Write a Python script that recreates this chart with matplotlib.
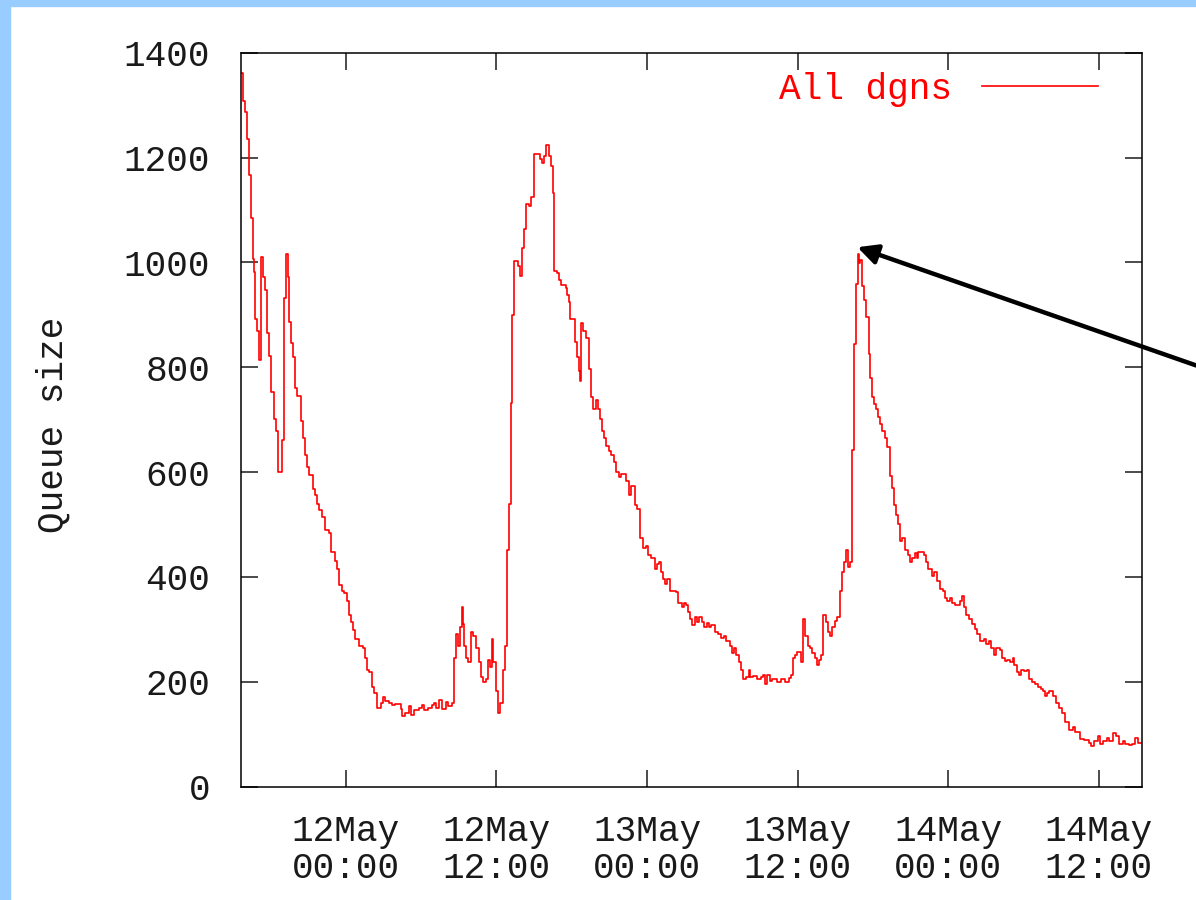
import matplotlib
matplotlib.use("Agg")
import matplotlib.pyplot as plt
import matplotlib.dates as mdates
from matplotlib.patches import Rectangle
import pandas as pd

plt.rcParams['font.family'] = ['Liberation Mono', 'DejaVu Sans Mono']

###### data : queue size, hours counted from 12May 00:00 ######

hours = [
    -8.39, -8.18, -8.02, -7.91, -7.75, -7.59, -7.43, -7.33, -7.22, -7.09,
    -6.96, -6.80, -6.64, -6.42, -6.27, -6.11, -6.00, -5.73, -5.58, -5.42,
    -5.10, -4.94, -4.78, -4.62, -4.51, -4.35, -4.19, -4.03, -3.87, -3.61,
    -3.45, -3.29, -3.13, -2.92, -2.65, -2.44, -2.28, -2.12, -1.91, -1.64,
    -1.38, -1.22, -0.85, -0.69, -0.53, -0.32, -0.16, 0.06, 0.22, 0.37,
    0.53, 0.69, 1.01, 1.33, 1.49, 1.70, 1.86, 2.07, 2.23, 2.45,
    2.76, 2.92, 3.14, 3.43, 3.69, 3.91, 4.36, 4.49, 4.70, 5.02,
    5.18, 5.39, 5.82, 6.03, 6.24, 6.56, 6.88, 7.04, 7.20, 7.41,
    7.63, 7.94, 8.16, 8.42, 8.64, 8.79, 8.95, 9.06, 9.27, 9.33,
    9.43, 9.54, 9.70, 9.96, 10.12, 10.39, 10.60, 10.76, 10.92, 11.13,
    11.29, 11.45, 11.61, 11.72, 11.93, 12.09, 12.25, 12.51, 12.67, 12.83,
    12.99, 13.12, 13.26, 13.42, 13.68, 13.84, 14.00, 14.16, 14.32, 14.58,
    14.74, 14.96, 15.01, 15.46, 15.65, 15.78, 15.94, 16.15, 16.31, 16.47,
    16.58, 16.79, 16.95, 17.16, 17.53, 17.64, 17.80, 17.90, 18.22, 18.38,
    18.54, 18.65, 18.75, 18.91, 19.13, 19.34, 19.50, 19.66, 19.92, 20.08,
    20.29, 20.45, 20.61, 20.77, 20.99, 21.15, 21.36, 21.52, 21.73, 21.94,
    22.31, 22.58, 22.74, 23.06, 23.22, 23.48, 23.69, 23.91, 24.07, 24.28,
    24.60, 24.76, 24.92, 25.13, 25.29, 25.45, 25.61, 25.82, 26.30, 26.46,
    26.75, 26.91, 27.07, 27.28, 27.44, 27.60, 27.81, 27.97, 28.18, 28.40,
    28.56, 28.77, 28.93, 29.14, 29.46, 29.67, 29.88, 30.15, 30.31, 30.63,
    30.79, 30.95, 31.11, 31.32, 31.48, 31.64, 31.90, 32.11, 32.22, 32.43,
    32.80, 33.07, 33.28, 33.44, 33.60, 33.81, 33.97, 34.40, 34.66, 35.04,
    35.30, 35.46, 35.62, 35.83, 35.99, 36.26, 36.47, 36.63, 36.84, 37.00,
    37.16, 37.37, 37.53, 37.74, 37.90, 38.00, 38.25, 38.46, 38.62, 38.78,
    38.99, 39.15, 39.42, 39.58, 39.74, 39.90, 40.00, 40.22, 40.32, 40.48,
    40.64, 40.80, 40.91, 41.01, 41.12, 41.28, 41.44, 41.70, 41.81, 41.91,
    42.07, 42.23, 42.39, 42.61, 42.76, 42.98, 43.14, 43.35, 43.51, 43.67,
    43.88, 44.04, 44.20, 44.36, 44.57, 44.78, 45.00, 45.16, 45.37, 45.53,
    45.63, 46.06, 46.27, 46.38, 46.70, 46.86, 47.12, 47.39, 47.60, 47.76,
    47.92, 48.18, 48.34, 48.56, 48.93, 49.09, 49.25, 49.46, 49.64, 49.91,
    50.12, 50.33, 50.55, 50.87, 51.03, 51.24, 51.40, 51.66, 51.82, 52.14,
    52.30, 52.51, 52.73, 52.94, 53.15, 53.26, 53.47, 53.63, 53.84, 54.05,
    54.27, 54.48, 54.69, 54.96, 55.17, 55.38, 55.59, 55.75, 55.91, 56.07,
    56.34, 56.60, 56.87, 57.08, 57.35, 57.61, 57.93, 58.14, 58.52, 58.83,
    59.21, 59.42, 59.63, 59.95, 60.11, 60.37, 60.64, 60.85, 61.17, 61.38,
    61.65, 61.92, 62.13, 62.39, 62.66, 62.92, 63.14, 63.46,
]

queue = [
    1362, 1307, 1287, 1235, 1166, 1084, 1007, 981, 893, 870,
    813, 1010, 973, 948, 866, 822, 752, 702, 679, 601,
    661, 932, 1016, 973, 886, 847, 820, 761, 745, 697,
    665, 633, 610, 594, 567, 556, 539, 528, 515, 490,
    483, 448, 430, 415, 385, 374, 369, 354, 328, 314,
    299, 282, 269, 264, 246, 223, 219, 191, 178, 150,
    159, 171, 164, 159, 155, 157, 148, 135, 141, 153,
    137, 146, 150, 155, 146, 150, 155, 159, 150, 166,
    148, 162, 153, 159, 246, 292, 269, 305, 342, 310,
    269, 246, 237, 296, 287, 264, 237, 210, 200, 205,
    241, 228, 282, 237, 182, 141, 159, 223, 269, 451,
    539, 731, 900, 1002, 993, 975, 1028, 1063, 1112, 1107,
    1125, 1130, 1207, 1198, 1189, 1203, 1223, 1203, 1184, 1132,
    984, 979, 966, 957, 952, 938, 925, 893, 849, 820,
    793, 774, 884, 870, 856, 797, 743, 720, 738, 720,
    702, 679, 665, 649, 640, 633, 620, 601, 590, 597,
    583, 556, 574, 538, 530, 474, 456, 460, 442, 436,
    415, 424, 428, 410, 396, 387, 396, 374, 372, 351,
    342, 351, 346, 333, 319, 308, 323, 314, 323, 314,
    305, 312, 305, 308, 296, 292, 284, 287, 278, 269,
    255, 264, 251, 237, 223, 205, 210, 223, 210, 212,
    205, 210, 214, 196, 214, 202, 205, 200, 205, 200,
    208, 214, 246, 251, 257, 237, 319, 287, 269, 264,
    255, 246, 232, 241, 251, 328, 314, 296, 287, 305,
    317, 323, 374, 410, 428, 451, 419, 428, 642, 845,
    959, 1016, 998, 1004, 955, 929, 895, 825, 779, 743,
    729, 720, 706, 692, 679, 665, 647, 592, 569, 538,
    519, 501, 469, 474, 451, 442, 428, 437, 446, 437,
    448, 442, 428, 415, 401, 410, 392, 378, 374, 360,
    355, 360, 351, 346, 355, 364, 342, 328, 319, 310,
    301, 292, 278, 282, 273, 278, 264, 251, 264, 260,
    246, 239, 241, 237, 246, 232, 219, 214, 223, 221,
    223, 205, 200, 196, 191, 187, 182, 173, 178, 182,
    173, 159, 150, 141, 123, 109, 114, 105, 91, 89,
    84, 77, 87, 96, 82, 87, 93, 87, 102, 96,
    82, 87, 82, 80, 82, 93, 84, 84,
]

series_label = "All dgns"
y_label = "Queue size"
y_ticks = [0, 200, 400, 600, 800, 1000, 1200, 1400]

start = pd.Timestamp("2004-05-12 00:00")
times = start + pd.to_timedelta(hours, unit="h")

# where the black arrow points (the second day peak)
arrow_tip_hours = 40.77
arrow_tip_value = 1029

###### figure ######

W, H = 1196, 900
fig = plt.figure(figsize=(W / 100, H / 100), dpi=100, facecolor="white")

# light blue frame on top and left of the slide
fig.patches.append(Rectangle((0, 1 - 6 / H), 1, 6 / H, transform=fig.transFigure,
                             color="#99ccff", zorder=0))
fig.patches.append(Rectangle((0, 0), 9.5 / W, 1, transform=fig.transFigure,
                             color="#99ccff", zorder=0))

left, right, top, bottom = 240.7, 1142.0, 52.7, 786.7
ax = fig.add_axes([left / W, (H - bottom) / H, (right - left) / W, (bottom - top) / H])

ax.plot(times, queue, color="#ff0000", lw=1.2, drawstyle="steps-post", label=series_label)

ax.set_xlim(start + pd.Timedelta(hours=-8.39), start + pd.Timedelta(hours=63.46))
ax.set_ylim(0, 1400)
ax.set_yticks(y_ticks)

ax.xaxis.set_major_locator(mdates.HourLocator(byhour=[0, 12]))
ax.xaxis.set_major_formatter(mdates.DateFormatter("%d%b\n%H:%M"))

for s in ax.spines.values():
    s.set_linewidth(1.1)

ax.tick_params(direction="in", length=12, width=1.1, top=True, right=True,
               labelsize=26, colors="#1a1a1a")
ax.tick_params(axis="y", pad=22)
ax.tick_params(axis="x", pad=20)
for lab in ax.get_xticklabels():
    lab.set_linespacing(1.05)

ax.set_ylabel(y_label, fontsize=26, color="#1a1a1a")
ax.yaxis.set_label_coords(-0.189, 0.493)

leg = ax.legend(loc="center right", bbox_to_anchor=(0.951, 0.9505), frameon=False,
                markerfirst=False, handlelength=3.2, handletextpad=0.85,
                borderpad=0, borderaxespad=0, fontsize=26, labelcolor="#ff0000")

ax.annotate("", xy=(start + pd.Timedelta(hours=arrow_tip_hours), arrow_tip_value),
            xycoords="data", xytext=(1.0, 0.594), textcoords="figure fraction",
            arrowprops=dict(arrowstyle="-|>", lw=3.2, color="black",
                            shrinkA=0, shrinkB=0, mutation_scale=30),
            annotation_clip=False)

fig.savefig("out.png", dpi=100, facecolor="white")
